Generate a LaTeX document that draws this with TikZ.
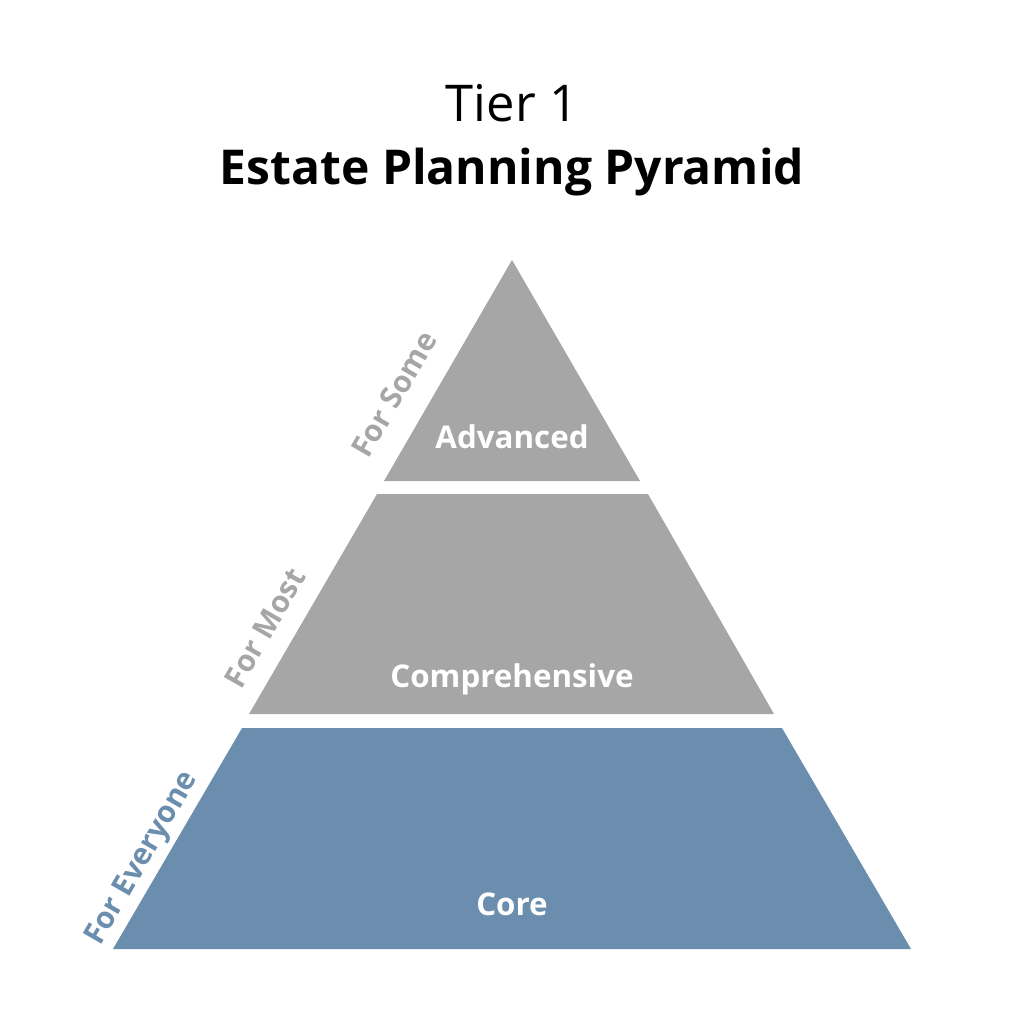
\documentclass[tikz,border=0pt]{standalone}
\usepackage{fontspec}
\setmainfont{Open Sans}
\definecolor{pgray}{HTML}{A6A6A6}
\definecolor{pblue}{HTML}{6B8EAE}
\begin{document}
\begin{tikzpicture}[x=0.75pt,y=-0.75pt,
  lvl/.style={font=\bfseries\fontsize{23.5}{28}\selectfont,text=white},
  side/.style={font=\bfseries\fontsize{22.5}{26}\selectfont,rotate=60,inner sep=0pt}]
\useasboundingbox (0,0) rectangle (1024,1024);
\fill[pgray] (512,260) -- (640,481) -- (384,481) -- cycle;
\fill[pgray] (377,494) -- (648,494) -- (774,714) -- (249,714) -- cycle;
\fill[pblue] (242,728) -- (782,728) -- (911,949) -- (113,949) -- cycle;
\node (t1) at (512,103) {\fontsize{38}{44}\selectfont Tier 1};
\node (t2) at (512,172) {\bfseries\fontsize{36}{42}\selectfont Estate Planning Pyramid};
\node[lvl] (a) at (512,437) {Advanced};
\node[lvl] (b) at (512,679) {Comprehensive};
\node[lvl] (c) at (512,904) {Core};
\node[side,text=pgray] (s1) at (394,394) {For Some};
\node[side,text=pgray] (s2) at (265,628) {For Most};
\node[side,text=pblue] (s3) at (143,859) {For Everyone};
\end{tikzpicture}
\end{document}
